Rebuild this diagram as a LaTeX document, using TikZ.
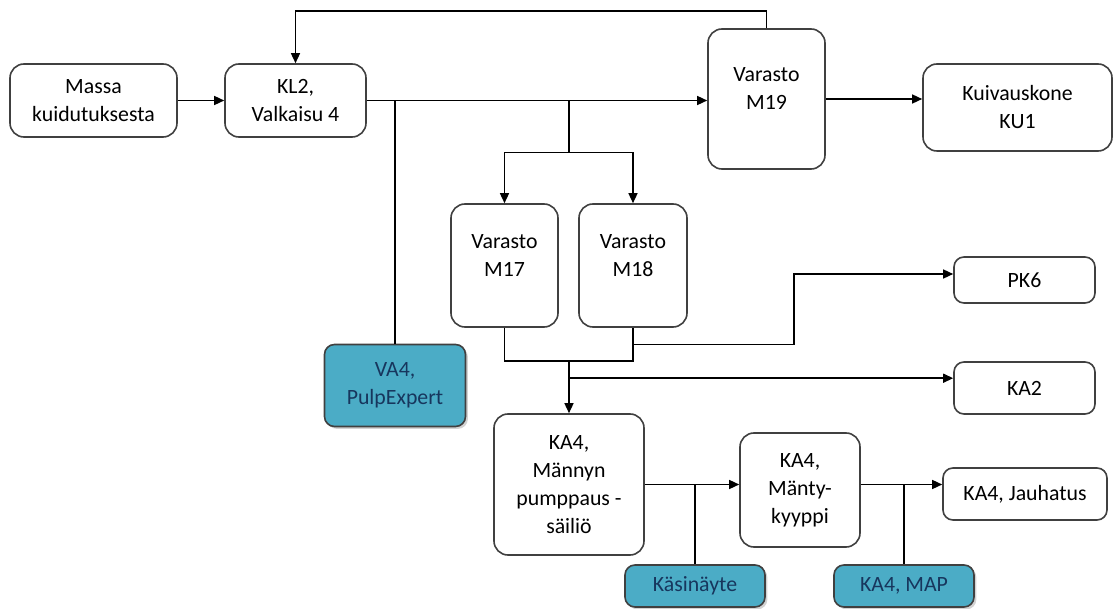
\documentclass[tikz,border=0pt]{standalone}
\usepackage{fontspec}
\setmainfont{Carlito}
\usepackage{xcolor}
\usepackage{tikz}
\usetikzlibrary{arrows.meta, positioning, shadows}
\definecolor{aqua}{HTML}{4BACC6}
\definecolor{navy}{HTML}{17365D}
\definecolor{edge}{HTML}{404040}
\newcommand{\boxfont}{\fontsize{10.9}{14}\selectfont}
\tikzstyle{unit} = [rectangle, rounded corners=7pt, draw=edge, line width=0.8pt, fill=white, inner sep=0pt, align=center, font=\boxfont]
\tikzstyle{meter} = [unit, rounded corners=5pt, fill=aqua, text=navy, drop shadow={shadow xshift=1.2pt, shadow yshift=-1.2pt, opacity=0.35}]
\tikzstyle{arrow} = [line width=0.7pt, ->, >={Triangle[length=5pt, width=4.5pt]}]
\tikzstyle{line} = [line width=0.7pt]

\begin{document}
\begin{tikzpicture}[x=0.5pt, y=-0.5pt]
\useasboundingbox (0,0) rectangle (1116,609);

% Bleaching line
\node (massa) [unit, minimum width=83.5pt, minimum height=36.5pt] at (93.5,100.5) {Massa\\kuidutuksesta};
\node (kl2) [unit, minimum width=70.5pt, minimum height=36.5pt] at (295.5,100.5) {KL2,\\Valkaisu 4};

% Storage towers
\node (m19) [unit, minimum width=58.5pt, minimum height=70pt] at (766.5,99) {Varasto\\M19\\[-4pt]\mbox{}};
\node (ku1) [unit, minimum width=94.5pt, minimum height=43.5pt] at (1017.5,107.5) {Kuivauskone\\KU1};
\node (m17) [unit, minimum width=53.5pt, minimum height=61.5pt] at (504.5,265.5) {Varasto\\M17\\[-4pt]\mbox{}};
\node (m18) [unit, minimum width=54pt, minimum height=61.5pt] at (633,265.5) {Varasto\\M18\\[-4pt]\mbox{}};

% Consumers
\node (pk6) [unit, rounded corners=5pt, minimum width=70.5pt, minimum height=23pt] at (1024.5,280) {PK6};
\node (ka2) [unit, rounded corners=5pt, minimum width=70.5pt, minimum height=26pt] at (1024.5,388) {KA2};

% KA4 line
\node (pump) [unit, minimum width=75pt, minimum height=70.5pt] at (569,484.5) {KA4,\\Männyn\\pumppaus -\\säiliö};
\node (manty) [unit, minimum width=60pt, minimum height=57pt] at (800,490) {KA4,\\Mänty-\\kyyppi};
\node (jauh) [unit, rounded corners=5pt, minimum width=82pt, minimum height=26pt] at (1025,494) {KA4, Jauhatus};

% Measurements
\node (va4) [meter, minimum width=70.5pt, minimum height=41pt] at (395,385.5) {VA4,\\PulpExpert};
\node (kasi) [meter, minimum width=70pt, minimum height=21pt] at (695,586) {Käsinäyte};
\node (map) [meter, minimum width=70pt, minimum height=21pt] at (904,586) {KA4, MAP};

% Arrows
\draw [arrow] (massa) -- (kl2);
\draw [arrow] (kl2.east) -- (kl2.east -| m19.west);
\draw [arrow] (m19.north) -- ++(0,-17) -| (kl2.north);
\draw [arrow] (m19.east) -- (m19.east -| ku1.west);
\draw [line] (kl2.east -| va4.north) -- (va4.north);
\draw [line] (kl2.east -| pump.north) -- ++(0,52) coordinate (fork);
\draw [arrow] (fork) -| (m17.north);
\draw [arrow] (fork) -| (m18.north);
\path (pump.north) ++(0,-52) coordinate (merge);
\draw [line] (m17.south) |- (merge) -| (m18.south);
\draw [arrow] (m18.south) ++(0,17) -- ++(161,0) |- ([yshift=3pt]pk6.west);
\draw [arrow] (merge) -- (pump.north);
\path (merge) ++(0,17) coordinate (tapka2);
\draw [arrow] (tapka2) -- (tapka2 -| ka2.west);
\draw [arrow] (pump.east) -- (pump -| manty.west);
\draw [arrow] (pump -| manty.east) -- (pump -| jauh.west);
\draw [line] (pump -| kasi.north) -- (kasi.north);
\draw [line] (pump -| map.north) -- (map.north);

\end{tikzpicture}
\end{document}
